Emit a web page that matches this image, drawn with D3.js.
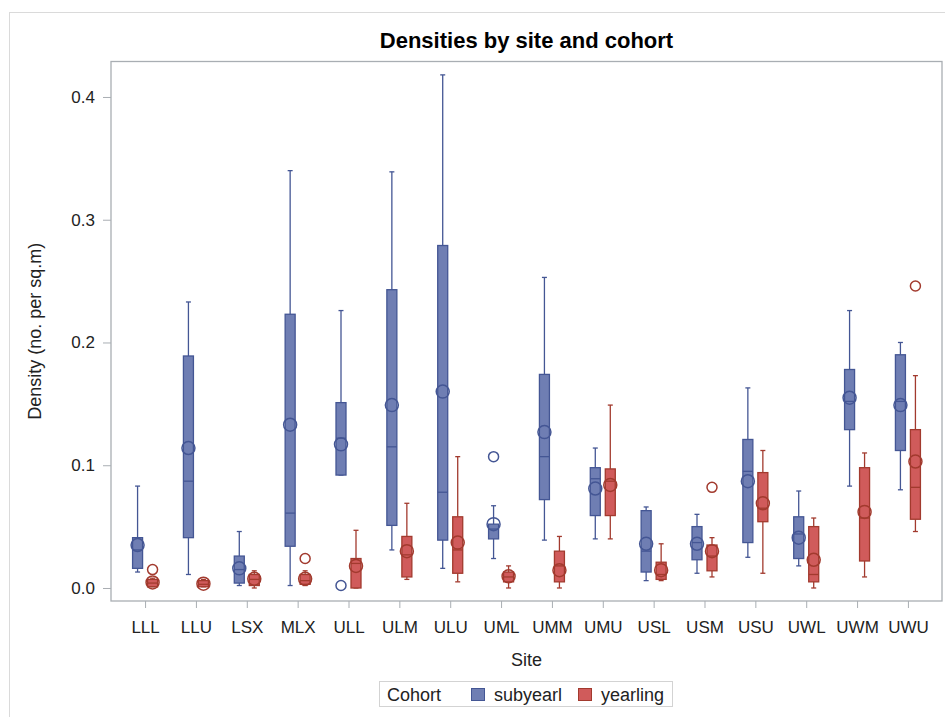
<!DOCTYPE html>
<html>
<head>
<meta charset="utf-8">
<script src="https://cdn.jsdelivr.net/npm/d3@7"></script>
<style>
  html, body { margin: 0; padding: 0; background: #fff; }
  svg { display: block; font-family: "Liberation Sans", Arial, sans-serif; }
</style>
</head>
<body>
<svg id="chart" width="945" height="717"></svg>
<script>
// Sites along the x axis
const sites = ["LLL","LLU","LSX","MLX","ULL","ULM","ULU","UML","UMM","UMU","USL","USM","USU","UWL","UWM","UWU"];

// Cohort names shown in the legend
const cohorts = ["subyearl", "yearling"];

// Box statistics, subyearl cohort (density, no. per sq.m)
const subMin  = [0.013, 0.011, 0.002, 0.002, 0.092, 0.031, 0.016, 0.024, 0.039, 0.040, 0.006, 0.012, 0.025, 0.018, 0.083, 0.080];
const subQ1   = [0.016, 0.041, 0.004, 0.034, 0.092, 0.051, 0.039, 0.040, 0.072, 0.059, 0.013, 0.023, 0.037, 0.024, 0.129, 0.112];
const subMed  = [0.031, 0.087, 0.015, 0.061, 0.122, 0.115, 0.078, 0.048, 0.107, 0.089, 0.030, 0.037, 0.095, 0.044, 0.152, 0.152];
const subQ3   = [0.041, 0.189, 0.026, 0.223, 0.151, 0.243, 0.279, 0.052, 0.174, 0.098, 0.063, 0.050, 0.121, 0.058, 0.178, 0.190];
const subMax  = [0.083, 0.233, 0.046, 0.340, 0.226, 0.339, 0.418, 0.067, 0.253, 0.114, 0.066, 0.060, 0.163, 0.079, 0.226, 0.200];
const subMean = [0.035, 0.114, 0.016, 0.133, 0.117, 0.149, 0.160, 0.052, 0.127, 0.081, 0.036, 0.036, 0.087, 0.041, 0.155, 0.149];
const subOut  = [[], [], [], [], [0.002], [], [], [0.107], [], [], [], [], [], [], [], []];

// Box statistics, yearling cohort
const yrlMin  = [0.001, 0.001, 0.000, 0.002, 0.000, 0.007, 0.005, 0.000, 0.000, 0.040, 0.006, 0.009, 0.012, 0.000, 0.009, 0.046];
const yrlQ1   = [0.001, 0.001, 0.002, 0.003, 0.000, 0.009, 0.012, 0.005, 0.005, 0.059, 0.007, 0.014, 0.054, 0.005, 0.022, 0.056];
const yrlMed  = [0.004, 0.003, 0.007, 0.006, 0.020, 0.027, 0.031, 0.009, 0.018, 0.087, 0.011, 0.026, 0.065, 0.011, 0.057, 0.082];
const yrlQ3   = [0.007, 0.006, 0.011, 0.011, 0.024, 0.042, 0.058, 0.013, 0.030, 0.097, 0.021, 0.035, 0.094, 0.050, 0.098, 0.129];
const yrlMax  = [0.008, 0.007, 0.014, 0.014, 0.047, 0.069, 0.107, 0.018, 0.042, 0.149, 0.036, 0.041, 0.112, 0.057, 0.110, 0.173];
const yrlMean = [0.0045, 0.0035, 0.0075, 0.0075, 0.018, 0.030, 0.037, 0.0095, 0.0145, 0.084, 0.0145, 0.030, 0.069, 0.023, 0.062, 0.103];
const yrlOut  = [[0.015], [], [], [0.024], [], [], [], [], [], [], [], [0.082], [], [], [], [0.246]];

// Y axis tick values
const yTicks = [0.0, 0.1, 0.2, 0.3, 0.4];

// Colours for each cohort (fill, edge)
const fills   = ["#6F7EB3", "#D05B5B"];
const strokes = ["#445694", "#A23A2E"];

const svg = d3.select("#chart");
const plot = { left: 111, right: 942, top: 61.5, bottom: 601 };

const x = d3.scalePoint().domain(sites).range([plot.left, plot.right]).padding(0.67);
const y = d3.scaleLinear().domain([-0.0106, 0.4289]).range([plot.bottom, plot.top]);

const groupOffset = 7.5;
const boxW = 10;
const capW = 5;

// Outer graph border
svg.append("rect")
  .attr("x", 9.5).attr("y", 12.5)
  .attr("width", 1000).attr("height", 1000)
  .attr("fill", "none").attr("stroke", "#DADADA").attr("stroke-width", 1);

// Title
svg.append("text")
  .attr("x", (plot.left + plot.right) / 2).attr("y", 48)
  .attr("text-anchor", "middle")
  .attr("font-size", 22).attr("font-weight", "bold").attr("fill", "#000")
  .text("Densities by site and cohort");

// Axes
const axisColor = "#A9AEB3";
const yAxis = svg.append("g")
  .attr("transform", `translate(${plot.left},0)`)
  .call(d3.axisLeft(y).tickValues(yTicks).tickFormat(d3.format(".1f")).tickSize(8).tickPadding(8));
yAxis.select(".domain").remove();
yAxis.selectAll(".tick line").attr("stroke", axisColor);
yAxis.selectAll(".tick text").attr("font-size", 17).attr("fill", "#222").attr("font-family", "Liberation Sans, Arial, sans-serif");

const xAxis = svg.append("g")
  .attr("transform", `translate(0,${plot.bottom})`)
  .call(d3.axisBottom(x).tickSize(7));
xAxis.select(".domain").remove();
xAxis.selectAll(".tick line").attr("stroke", axisColor);
xAxis.selectAll(".tick text").attr("font-size", 17).attr("fill", "#222")
  .attr("font-family", "Liberation Sans, Arial, sans-serif")
  .attr("dy", null).attr("y", 32);

// Axis titles
svg.append("text")
  .attr("x", (plot.left + plot.right) / 2).attr("y", 666)
  .attr("text-anchor", "middle").attr("font-size", 18).attr("fill", "#222")
  .text("Site");

svg.append("text")
  .attr("transform", `translate(41,${(plot.top + plot.bottom) / 2}) rotate(-90)`)
  .attr("text-anchor", "middle").attr("font-size", 18).attr("fill", "#222")
  .text("Density (no. per sq.m)");

// Build the per-cohort records from the arrays
const series = [
  { min: subMin, q1: subQ1, med: subMed, q3: subQ3, max: subMax, mean: subMean, out: subOut },
  { min: yrlMin, q1: yrlQ1, med: yrlMed, q3: yrlQ3, max: yrlMax, mean: yrlMean, out: yrlOut }
];
const boxes = [];
series.forEach((s, gi) => {
  sites.forEach((site, i) => {
    boxes.push({
      gi, site,
      cx: x(site) + (gi === 0 ? -groupOffset : groupOffset),
      min: s.min[i], q1: s.q1[i], med: s.med[i], q3: s.q3[i], max: s.max[i],
      mean: s.mean[i], out: s.out[i]
    });
  });
});

const marks = svg.append("g");
const g = marks.selectAll("g.box").data(boxes).join("g").attr("class", "box");

// Whiskers
g.append("line")
  .attr("x1", d => d.cx).attr("x2", d => d.cx)
  .attr("y1", d => y(d.max)).attr("y2", d => y(d.q3))
  .attr("stroke", d => strokes[d.gi]).attr("stroke-width", 1.3);
g.append("line")
  .attr("x1", d => d.cx).attr("x2", d => d.cx)
  .attr("y1", d => y(d.q1)).attr("y2", d => y(d.min))
  .attr("stroke", d => strokes[d.gi]).attr("stroke-width", 1.3);
// Whisker caps
g.append("line")
  .attr("x1", d => d.cx - capW / 2).attr("x2", d => d.cx + capW / 2)
  .attr("y1", d => y(d.max)).attr("y2", d => y(d.max))
  .attr("stroke", d => strokes[d.gi]).attr("stroke-width", 1.3);
g.append("line")
  .attr("x1", d => d.cx - capW / 2).attr("x2", d => d.cx + capW / 2)
  .attr("y1", d => y(d.min)).attr("y2", d => y(d.min))
  .attr("stroke", d => strokes[d.gi]).attr("stroke-width", 1.3);

// Interquartile box
g.append("rect")
  .attr("x", d => d.cx - boxW / 2).attr("width", boxW)
  .attr("y", d => y(d.q3)).attr("height", d => Math.max(1, y(d.q1) - y(d.q3)))
  .attr("fill", d => fills[d.gi]).attr("stroke", d => strokes[d.gi]).attr("stroke-width", 1.3);

// Median
g.append("line")
  .attr("x1", d => d.cx - boxW / 2).attr("x2", d => d.cx + boxW / 2)
  .attr("y1", d => y(d.med)).attr("y2", d => y(d.med))
  .attr("stroke", d => strokes[d.gi]).attr("stroke-width", 1.3);

// Mean marker
g.append("circle")
  .attr("cx", d => d.cx).attr("cy", d => y(d.mean)).attr("r", 6.5)
  .attr("fill", "none").attr("stroke", d => strokes[d.gi]).attr("stroke-width", 1.5);

// Outliers
g.selectAll("circle.outlier").data(d => d.out.map(v => ({ v, cx: d.cx, gi: d.gi })))
  .join("circle").attr("class", "outlier")
  .attr("cx", d => d.cx).attr("cy", d => y(d.v)).attr("r", 5)
  .attr("fill", "none").attr("stroke", d => strokes[d.gi]).attr("stroke-width", 1.5);

// Plot frame
svg.append("rect")
  .attr("x", plot.left).attr("y", plot.top)
  .attr("width", plot.right - plot.left).attr("height", plot.bottom - plot.top)
  .attr("fill", "none").attr("stroke", axisColor).attr("stroke-width", 1.3);

// Legend
const legend = svg.append("g");
legend.append("rect")
  .attr("x", 379.5).attr("y", 681.5).attr("width", 293).attr("height", 25)
  .attr("fill", "#fff").attr("stroke", "#D3D3D3");
legend.append("text")
  .attr("x", 387).attr("y", 700.5).attr("font-size", 18).attr("fill", "#222")
  .text("Cohort");
const legendX = [471, 578];
cohorts.forEach((c, i) => {
  legend.append("rect")
    .attr("x", legendX[i] + 0.5).attr("y", 688.5).attr("width", 13).attr("height", 12)
    .attr("fill", fills[i]).attr("stroke", strokes[i]).attr("stroke-width", 1);
  legend.append("text")
    .attr("x", legendX[i] + 23).attr("y", 700.5).attr("font-size", 18).attr("fill", "#222")
    .text(c);
});
</script>
</body>
</html>
